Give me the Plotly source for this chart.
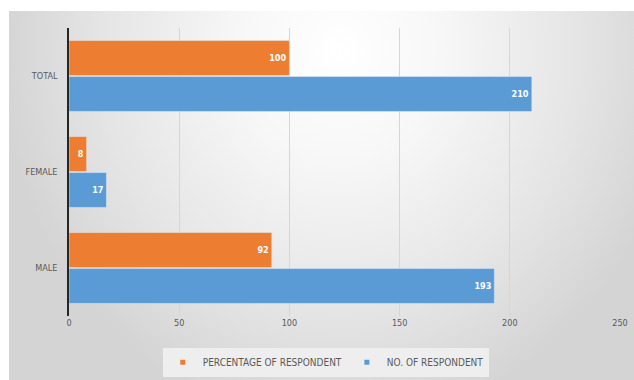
import base64
import plotly.graph_objects as go

categories = ["MALE", "FEMALE", "TOTAL"]
no_of_respondent = [193, 17, 210]
percentage_of_respondent = [92, 8, 100]
series_names = ["PERCENTAGE OF RESPONDENT", "NO. OF RESPONDENT"]
x_ticks = [0, 50, 100, 150, 200, 250]

ORANGE = "#ed7d31"
BLUE = "#5b9bd5"
FONT = "DejaVu Sans Condensed, Liberation Sans Narrow, Liberation Sans, sans-serif"

svg = """<svg xmlns='http://www.w3.org/2000/svg' width='634' height='380' viewBox='0 0 634 380' preserveAspectRatio='none'>
<defs><radialGradient id='g' gradientUnits='userSpaceOnUse' cx='340' cy='50' r='340' gradientTransform='translate(340,50) scale(1,1.1) translate(-340,-50)'>
<stop offset='0' stop-color='#ffffff'/><stop offset='0.3' stop-color='#f7f7f7'/><stop offset='0.7' stop-color='#e5e5e5'/><stop offset='1' stop-color='#d4d4d4'/></radialGradient></defs>
<rect width='634' height='380' fill='#ffffff'/>
<rect x='9' y='11' width='625' height='369' fill='url(#g)'/>
</svg>"""
src = "data:image/svg+xml;base64," + base64.b64encode(svg.encode()).decode()

fig = go.Figure()
fig.add_trace(go.Bar(
    y=categories, x=no_of_respondent, orientation="h", name=series_names[1],
    marker=dict(color=BLUE), text=no_of_respondent, textposition="inside",
    insidetextanchor="end", textfont=dict(color="white", size=9, family=FONT, weight="bold"),
    showlegend=False))
fig.add_trace(go.Bar(
    y=categories, x=percentage_of_respondent, orientation="h", name=series_names[0],
    marker=dict(color=ORANGE), text=percentage_of_respondent, textposition="inside",
    insidetextanchor="end", textfont=dict(color="white", size=9, family=FONT, weight="bold"),
    showlegend=False))
# legend entries with small square markers
fig.add_trace(go.Scatter(x=[None], y=[None], mode="markers", name=series_names[0],
                         marker=dict(symbol="square", size=5, color=ORANGE)))
fig.add_trace(go.Scatter(x=[None], y=[None], mode="markers", name=series_names[1],
                         marker=dict(symbol="square", size=5, color=BLUE)))

fig.update_layout(
    width=634, height=380,
    margin=dict(l=69, r=14, t=28, b=64, autoexpand=False),
    paper_bgcolor="rgba(0,0,0,0)", plot_bgcolor="rgba(0,0,0,0)",
    barmode="group", bargap=0.25, bargroupgap=0.03,
    font=dict(family=FONT, size=9, color="#595959"),
    images=[dict(source=src, xref="paper", yref="paper", x=-69/551, y=1+28/288,
                 sizex=634/551, sizey=380/288, xanchor="left", yanchor="top",
                 sizing="stretch", layer="below")],
    xaxis=dict(range=[0, 250], tickvals=x_ticks, showgrid=True, gridcolor="#d6d6d6",
               gridwidth=1, zeroline=False, showline=False, ticks="", automargin=False),
    yaxis=dict(showline=True, linecolor="#262626", linewidth=1.5, ticks="",
               showgrid=False, ticklabelstandoff=8, automargin=False),
    legend=dict(orientation="h", x=0.466, xanchor="center", y=-0.11, yanchor="top",
                bgcolor="#eeeeee", font=dict(size=10, color="#595959"),
                itemwidth=30, tracegroupgap=0),
)
fig.write_html("out.html", config={"displayModeBar": False},
               post_script="document.body.style.margin='0';")
